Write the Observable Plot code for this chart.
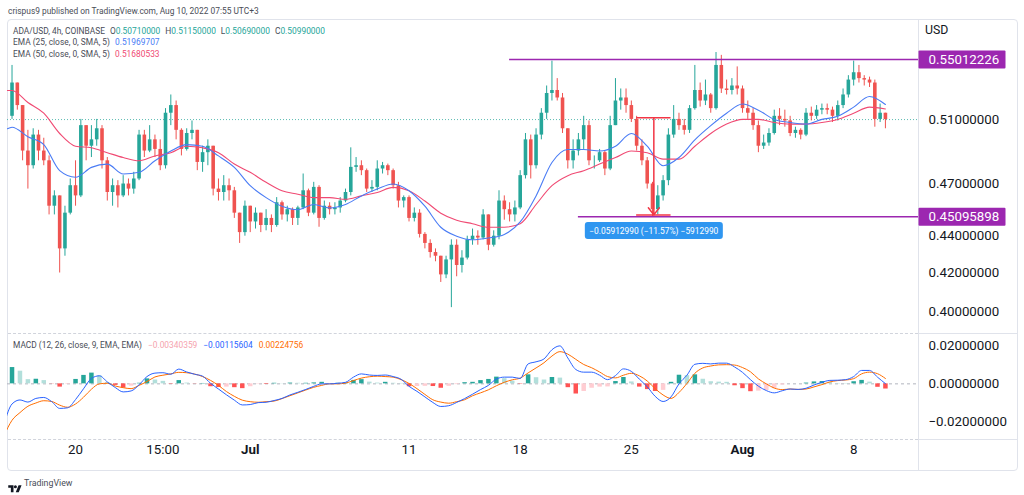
<!DOCTYPE html>
<html><head><meta charset="utf-8">
<script src="https://cdn.jsdelivr.net/npm/d3@7"></script>
<script src="https://cdn.jsdelivr.net/npm/@observablehq/plot@0.6"></script>
<style>
html,body{margin:0;padding:0;background:#fff;}
#wrap{position:relative;width:1024px;height:495px;overflow:hidden;background:#fff;font-family:Roboto,"Open Sans",sans-serif;}
</style></head>
<body><div id="wrap"></div>
<script>
// ---------- DATA ----------
// 8-hour candles (chart time UTC+3), first at Jun 16 03:00
const candleStart = "2022-06-16T03:00:00Z";
const candleHours = 8;
const firstOpen = 0.512;
const closes = [
0.534,0.519,0.490,0.481,0.500,0.490,0.484,0.457,0.463,0.433,
0.453,0.469,0.463,0.506,0.493,0.497,0.504,0.484,0.465,0.469,
0.463,0.470,0.467,0.473,0.500,0.490,0.497,0.491,0.481,0.514,
0.519,0.503,0.491,0.501,0.503,0.483,0.489,0.493,0.467,0.465,
0.469,0.466,0.453,0.442,0.457,0.448,0.453,0.446,0.450,0.446,
0.459,0.452,0.455,0.450,0.456,0.466,0.453,0.468,0.450,0.457,
0.455,0.456,0.460,0.465,0.480,0.481,0.478,0.467,0.468,0.479,
0.481,0.478,0.469,0.460,0.462,0.450,0.453,0.441,0.436,0.431,
0.429,0.419,0.427,0.435,0.424,0.428,0.438,0.440,0.439,0.452,
0.435,0.440,0.460,0.455,0.452,0.456,0.475,0.497,0.481,0.500,
0.514,0.527,0.529,0.524,0.504,0.484,0.490,0.497,0.506,0.484,
0.484,0.489,0.479,0.506,0.522,0.524,0.519,0.510,0.493,0.484,
0.470,0.455,0.463,0.472,0.500,0.510,0.506,0.503,0.517,0.529,
0.522,0.526,0.517,0.546,0.530,0.529,0.532,0.530,0.517,0.514,
0.506,0.493,0.495,0.501,0.512,0.510,0.509,0.501,0.503,0.500,
0.514,0.512,0.516,0.517,0.516,0.512,0.519,0.526,0.536,0.541,
0.537,0.536,0.534,0.510,0.514,0.5099];
const highs = [
0.546,0.532,0.519,0.503,0.504,0.503,0.498,0.487,0.466,0.463,
0.457,0.473,0.484,0.510,0.506,0.506,0.510,0.506,0.486,0.473,
0.472,0.475,0.473,0.477,0.503,0.503,0.506,0.500,0.497,0.517,
0.526,0.522,0.504,0.504,0.509,0.503,0.493,0.497,0.493,0.473,
0.475,0.473,0.468,0.453,0.460,0.457,0.456,0.453,0.455,0.452,
0.462,0.460,0.457,0.456,0.457,0.476,0.467,0.471,0.469,0.460,
0.459,0.459,0.462,0.467,0.492,0.486,0.484,0.479,0.472,0.484,
0.483,0.482,0.479,0.471,0.463,0.463,0.456,0.455,0.442,0.438,
0.433,0.429,0.429,0.438,0.438,0.432,0.440,0.444,0.443,0.455,
0.452,0.443,0.466,0.463,0.459,0.460,0.478,0.501,0.500,0.504,
0.517,0.532,0.549,0.537,0.527,0.504,0.497,0.501,0.512,0.509,
0.487,0.491,0.490,0.512,0.537,0.530,0.530,0.522,0.512,0.497,
0.486,0.471,0.469,0.475,0.504,0.519,0.514,0.510,0.519,0.546,
0.534,0.536,0.527,0.555,0.553,0.536,0.537,0.545,0.532,0.522,
0.517,0.509,0.500,0.504,0.516,0.517,0.516,0.512,0.505,0.504,
0.517,0.518,0.519,0.520,0.520,0.518,0.522,0.530,0.539,0.549,
0.546,0.539,0.538,0.536,0.520,0.514];
const lows = [
0.510,0.516,0.484,0.467,0.479,0.484,0.481,0.452,0.452,0.420,
0.429,0.452,0.457,0.462,0.484,0.486,0.493,0.479,0.460,0.457,
0.456,0.462,0.463,0.464,0.472,0.486,0.489,0.486,0.478,0.479,
0.506,0.497,0.487,0.490,0.497,0.478,0.477,0.481,0.463,0.460,
0.460,0.460,0.450,0.436,0.440,0.442,0.444,0.442,0.443,0.442,
0.445,0.449,0.448,0.446,0.446,0.455,0.451,0.452,0.445,0.449,
0.452,0.452,0.453,0.459,0.463,0.477,0.475,0.465,0.465,0.466,
0.476,0.475,0.467,0.456,0.456,0.448,0.448,0.439,0.433,0.428,
0.426,0.415,0.417,0.402,0.418,0.420,0.427,0.435,0.435,0.438,
0.432,0.434,0.438,0.449,0.448,0.448,0.455,0.473,0.473,0.479,
0.497,0.510,0.522,0.522,0.501,0.479,0.479,0.487,0.491,0.481,
0.479,0.483,0.475,0.478,0.506,0.516,0.514,0.508,0.490,0.481,
0.467,0.451,0.452,0.460,0.469,0.498,0.503,0.500,0.501,0.516,
0.518,0.519,0.514,0.516,0.527,0.526,0.526,0.526,0.514,0.510,
0.503,0.489,0.491,0.493,0.500,0.506,0.505,0.499,0.498,0.497,
0.499,0.509,0.510,0.513,0.513,0.508,0.509,0.517,0.524,0.532,
0.534,0.532,0.531,0.505,0.508,0.504];

// EMA lines: first point at left edge (Jun 15 20:00), then daily at 03:00 Jun 16 .. Aug 10
const emaFirstDate = "2022-06-15T20:00:00Z";
const emaDailyStart = "2022-06-16T03:00:00Z";
const ema25 = [0.504,
0.505,0.499,0.494,0.478,0.474,0.480,0.482,0.476,0.477,0.484,
0.490,0.494,0.493,0.487,0.480,0.469,0.462,0.457,0.455,0.458,
0.456,0.458,0.463,0.467,0.470,0.466,0.457,0.445,0.440,0.438,
0.439,0.441,0.448,0.463,0.483,0.491,0.491,0.490,0.493,0.501,
0.493,0.481,0.486,0.497,0.506,0.514,0.520,0.516,0.510,0.508,
0.507,0.510,0.512,0.518,0.525,0.5197];
const ema50 = [0.529,
0.529,0.521,0.514,0.501,0.493,0.492,0.489,0.486,0.484,0.487,
0.489,0.493,0.492,0.489,0.482,0.477,0.471,0.466,0.464,0.462,
0.462,0.461,0.463,0.465,0.468,0.466,0.460,0.453,0.449,0.447,
0.445,0.445,0.447,0.458,0.469,0.475,0.478,0.482,0.486,0.490,
0.489,0.485,0.485,0.493,0.501,0.507,0.510,0.510,0.508,0.507,
0.507,0.508,0.510,0.514,0.518,0.5168];

// MACD (12,26,9): every 12 h from Jun 15 15:00
const macdStart = "2022-06-15T15:00:00Z";
const macdLine = [-0.021,
-0.0105,-0.0084,-0.0095,-0.0076,-0.0071,-0.0093,-0.0128,-0.0125,-0.0082,-0.0026,
0.0028,0.0042,0.0010,-0.0019,-0.0042,-0.0037,-0.0005,0.0038,0.0056,0.0058,
0.0050,0.0077,0.0062,0.0050,0.0040,0.0003,-0.0027,-0.0057,-0.0085,-0.0110,
-0.0108,-0.0098,-0.0096,-0.0087,-0.0076,-0.0058,-0.0044,-0.0029,-0.0013,0.0000,
0.0000,0.0003,0.0008,0.0035,0.0052,0.0046,0.0044,0.0046,0.0038,0.0024,
-0.0013,-0.0039,-0.0068,-0.0097,-0.0118,-0.0114,-0.0097,-0.0077,-0.0054,-0.0030,
-0.0008,0.0025,0.0035,0.0035,0.0028,0.0104,0.0115,0.0130,0.0178,0.0198,
0.0135,0.0075,0.0061,0.0061,0.0045,0.0022,0.0043,0.0078,0.0065,0.0025,
-0.0015,-0.0065,-0.0092,-0.0068,0.0000,0.0045,0.0102,0.0107,0.0104,0.0108,
0.0108,0.0088,0.0060,0.0022,-0.0012,-0.0035,-0.0047,-0.0036,-0.0027,-0.0029,
-0.0023,-0.0006,0.0008,0.0018,0.0019,0.0022,0.0038,0.0070,0.0070,0.0035,
0.0001];
const signalLine = [-0.027,
-0.0190,-0.0150,-0.0117,-0.0100,-0.0088,-0.0092,-0.0111,-0.0122,-0.0105,-0.0070,
-0.0028,0.0000,0.0003,-0.0011,-0.0020,-0.0025,-0.0008,0.0012,0.0036,0.0045,
0.0052,0.0060,0.0058,0.0051,0.0038,0.0018,-0.0008,-0.0040,-0.0065,-0.0085,
-0.0093,-0.0096,-0.0093,-0.0090,-0.0077,-0.0062,-0.0047,-0.0032,-0.0018,-0.0008,
0.0000,0.0000,0.0004,0.0017,0.0030,0.0037,0.0040,0.0038,0.0035,0.0022,
0.0002,-0.0025,-0.0055,-0.0083,-0.0095,-0.0101,-0.0093,-0.0083,-0.0062,-0.0047,
-0.0031,-0.0010,0.0008,0.0021,0.0030,0.0057,0.0083,0.0110,0.0145,0.0168,
0.0155,0.0128,0.0101,0.0084,0.0062,0.0038,0.0031,0.0045,0.0055,0.0042,
0.0015,-0.0025,-0.0058,-0.0076,-0.0045,0.0002,0.0055,0.0083,0.0093,0.0099,
0.0100,0.0098,0.0085,0.0063,0.0026,0.0000,-0.0022,-0.0030,-0.0027,-0.0029,
-0.0027,-0.0016,-0.0004,0.0010,0.0017,0.0020,0.0027,0.0052,0.0061,0.0053,
0.0028];

// axes
const priceTicks = [0.40, 0.42, 0.44, 0.47, 0.51];
const macdTicks = [0.02, 0, -0.02];
const timeTicks = ["2022-06-20T03:00:00Z","2022-06-25T15:00:00Z","2022-07-01T03:00:00Z","2022-07-11T03:00:00Z","2022-07-18T03:00:00Z","2022-07-25T03:00:00Z","2022-08-01T03:00:00Z","2022-08-08T03:00:00Z"];
const timeLabels = ["20","15:00","Jul","11","18","25","Aug","8"];
const timeIsMonth = [false,false,true,false,false,false,true,false];

// drawings
const levelValues = [0.55012226, 0.45095898];
const levelStarts = ["2022-07-17T11:00:00Z", "2022-07-21T19:00:00Z"];
const measureTime = "2022-07-26T13:00:00Z";
const measureCapFrom = "2022-07-25T11:00:00Z";
const measureCapTo = "2022-07-27T15:00:00Z";
const measureTop = 0.5111, measureBottom = 0.4520;
const measureText = "\u22120.05912990 (\u221211.57%) \u22125912990";
const lastClose = 0.5099;

// legend texts
const ohlc = [["O","0.50710000"],["H","0.51150000"],["L","0.50690000"],["C","0.50990000"]];
const emaLegend = [["EMA (25, close, 0, SMA, 5)","0.51969707"],["EMA (50, close, 0, SMA, 5)","0.51680533"]];
const macdLegend = ["\u22120.00340359","\u22120.00115604","0.00224756"];

// ---------- BUILD ----------
const UP = "#26a69a", DOWN = "#ef5350";
const C25 = "#4a7cf5", C50 = "#f04a73", CMACD = "#2962ff", CSIG = "#ff6d00", PURPLE = "#9c27b0";
const H = 3600e3;
const candles = closes.map((c, i) => {
  const o = i ? closes[i-1] : firstOpen;
  return {t: new Date(+new Date(candleStart) + i*candleHours*H), open:o, close:c,
    high: Math.max(highs[i], o, c), low: Math.min(lows[i], o, c), color: c >= o ? UP : DOWN};
});
const emaRows = ema25.map((v, i) => ({
  t: i === 0 ? new Date(emaFirstDate) : new Date(+new Date(emaDailyStart) + (i-1)*24*H),
  e25: v, e50: ema50[i]}));
const macdRows = [];
for (let i = 0; i < Math.min(macdLine.length, signalLine.length); i++) {
  const h = macdLine[i] - signalLine[i];
  const prev = i ? macdLine[i-1] - signalLine[i-1] : h;
  const color = h >= 0 ? (h > prev ? "#26a69a" : "#b2dfdb") : (h < prev ? "#ff5252" : "#ffcdd2");
  macdRows.push({t: new Date(+new Date(macdStart) + i*12*H), macd: macdLine[i], signal: signalLine[i], hist: h, color});
}
const levels = levelValues.map((v, i) => ({v, from: new Date(levelStarts[i])}));
const measure = [{t: new Date(measureTime), from: measureTop, to: measureBottom, label: measureText}];
const caps = [measureTop, measureBottom].map(v => ({v, a: new Date(measureCapFrom), b: new Date(measureCapTo)}));
const tickRows = timeTicks.map((t, i) => ({t: new Date(t), label: timeLabels[i], month: timeIsMonth[i]}));

function boxSymbol(x, y, w, h, r) {
  return {draw(ctx) {
    ctx.moveTo(x + r, y);
    ctx.lineTo(x + w - r, y); ctx.arcTo(x + w, y, x + w, y + r, r);
    ctx.lineTo(x + w, y + h - r); ctx.arcTo(x + w, y + h, x + w - r, y + h, r);
    ctx.lineTo(x + r, y + h); ctx.arcTo(x, y + h, x, y + h - r, r);
    ctx.lineTo(x, y + r); ctx.arcTo(x, y, x + r, y, r);
    ctx.closePath();
  }};
}

const wrap = document.getElementById("wrap");
function addDiv(css, html) { const d = document.createElement("div"); d.style.cssText = css; if (html != null) d.innerHTML = html; wrap.appendChild(d); return d; }
function addText(x, y, html, size, color, extra) {
  return addDiv(`position:absolute;left:${x}px;top:${y}px;transform:translateY(-50%);font-size:${size}px;line-height:1.25;color:${color};white-space:nowrap;${extra||""}`, html);
}

// frame
const LINE = "#e0e3eb";
addDiv(`position:absolute;left:7px;top:19px;width:1009px;height:450px;border:1px solid ${LINE};border-radius:4px;`);
addDiv(`position:absolute;left:918px;top:20px;width:1px;height:450px;background:${LINE};`);
addDiv(`position:absolute;left:8px;top:333px;width:910px;height:0;border-top:1px dashed #d1d4dc;`);
addDiv(`position:absolute;left:919px;top:333px;width:98px;height:1px;background:${LINE};`);
addDiv(`position:absolute;left:8px;top:439px;width:910px;height:0;border-top:1px dashed #d1d4dc;`);
addDiv(`position:absolute;left:919px;top:439px;width:98px;height:1px;background:${LINE};`);

const xScale = {type: "utc", domain: [new Date("2022-06-15T20:10:00Z"), new Date("2022-08-12T05:00:00Z")], range: [7, 918], axis: null};
const xEnd = xScale.domain[1];

const mainChart = Plot.plot({
  width: 1024, height: 335, marginLeft: 7, marginRight: 106, marginTop: 20, marginBottom: 0,
  x: xScale,
  y: {type: "log", domain: [0.40, 0.55012226], range: [311.1, 59], axis: null},
  color: {type: "identity"},
  marks: [
    Plot.ruleY([lastClose], {stroke: "#26a69a", strokeOpacity: 0.75, strokeDasharray: "1,2"}),
    Plot.ruleX(candles, {x: "t", y1: "low", y2: "high", stroke: "color", strokeWidth: 1}),
    Plot.ruleX(candles, {x: "t", y1: "open", y2: "close", stroke: "color", strokeWidth: 3.6}),
    Plot.line(emaRows, {x: "t", y: "e50", stroke: C50, strokeWidth: 1.1, curve: "monotone-x", clip: true}),
    Plot.line(emaRows, {x: "t", y: "e25", stroke: C25, strokeWidth: 1.1, curve: "monotone-x", clip: true}),
    Plot.ruleY(levels, {y: "v", x1: "from", x2: () => xEnd, stroke: PURPLE, strokeWidth: 1.5}),
    Plot.ruleY(caps, {y: "v", x1: "a", x2: "b", stroke: "#f23645", strokeWidth: 1.5}),
    Plot.arrow(measure, {x1: "t", x2: "t", y1: "from", y2: "to", stroke: "#f23645", strokeWidth: 1.5, headLength: 9, headAngle: 75}),
    Plot.dot(measure, {x: "t", y: "to", symbol: boxSymbol(-69, 7, 138, 17, 3), fill: "#2f96f0", stroke: "none"}),
    Plot.text(measure, {x: "t", y: "to", text: "label", dy: 16, fill: "white", fontSize: 8.4}),
    Plot.text(priceTicks, {y: d => d, text: d => d.toFixed(8), frameAnchor: "right", textAnchor: "start", dx: 10, fill: "#131722", fontSize: 13.3}),
    Plot.dot(levels, {x: () => xEnd, y: "v", symbol: boxSymbol(0, -9, 87, 18, 1), fill: PURPLE, stroke: "none"}),
    Plot.text(levels, {x: () => xEnd, y: "v", text: d => d.v.toFixed(8), textAnchor: "start", dx: 10, fill: "white", fontSize: 13.3})
  ]
});

const fmtMacd = d => (d < 0 ? "\u2212" : "") + Math.abs(d).toFixed(8);
const macdChart = Plot.plot({
  width: 1024, height: 470, marginLeft: 7, marginRight: 106, marginTop: 334, marginBottom: 31,
  x: xScale,
  y: {domain: [-0.02, 0.02], range: [421.7, 345], axis: null},
  color: {type: "identity"},
  marks: [
    Plot.ruleY([0], {stroke: "#b2b5be", strokeDasharray: "3,3"}),
    Plot.ruleX(macdRows, {x: "t", y1: 0, y2: "hist", stroke: "color", strokeWidth: 4.5, clip: true}),
    Plot.line(macdRows, {x: "t", y: "signal", stroke: CSIG, strokeWidth: 1, curve: "monotone-x", clip: true}),
    Plot.line(macdRows, {x: "t", y: "macd", stroke: CMACD, strokeWidth: 1, curve: "monotone-x", clip: true}),
    Plot.text(macdTicks, {y: d => d, text: fmtMacd, frameAnchor: "right", textAnchor: "start", dx: 10, fill: "#131722", fontSize: 13.3}),
    Plot.text(tickRows.filter(d => !d.month), {x: "t", text: "label", frameAnchor: "bottom", dy: 14, fill: "#131722", fontSize: 13.3}),
    Plot.text(tickRows.filter(d => d.month), {x: "t", text: "label", frameAnchor: "bottom", dy: 14, fill: "#131722", fontSize: 13.3, fontWeight: 700})
  ]
});

for (const svg of [mainChart, macdChart]) {
  svg.style.position = "absolute"; svg.style.left = "0px"; svg.style.top = "0px";
  svg.style.background = "transparent"; svg.style.maxWidth = "none"; svg.style.overflow = "visible";
  svg.style.fontFamily = "Roboto, sans-serif";
  wrap.appendChild(svg);
}

// texts
const GRAY = "#4a4d57";
addText(8, 11, "crispus9 published on TradingView.com, Aug 10, 2022 07:55 UTC+3", 8.4, GRAY);
addText(925, 31, "USD", 12.3, "#131722");
let l1 = `<span>ADA/USD, 4h, COINBASE</span>`;
for (const [k, v] of ohlc) l1 += `<span style="margin-left:5px">${k}</span><span style="color:${UP}">${v}</span>`;
addText(13, 30.5, l1, 8.4, GRAY);
addText(13, 42, `${emaLegend[0][0]}<span style="margin-left:5px;color:${C25}">${emaLegend[0][1]}</span>`, 8.4, GRAY);
addText(13, 53.5, `${emaLegend[1][0]}<span style="margin-left:5px;color:${C50}">${emaLegend[1][1]}</span>`, 8.4, GRAY);
addText(13, 345, `MACD (12, 26, close, 9, EMA, EMA)<span style="margin-left:6px;color:#f5a3ae">${macdLegend[0]}</span><span style="margin-left:6px;color:${CMACD}">${macdLegend[1]}</span><span style="margin-left:6px;color:${CSIG}">${macdLegend[2]}</span>`, 8.4, GRAY);
addDiv(`position:absolute;left:8px;top:478px;`, `<svg width="14" height="9" viewBox="0 0 36 24"><path d="M14 22H7V10H0V3h14v19zM28 22h-8l7.5-19h8L28 22z" fill="#131722"/><circle cx="19" cy="7" r="4" fill="#131722"/></svg>`);
addText(24, 482.5, "TradingView", 8.8, GRAY);
</script></body></html>
